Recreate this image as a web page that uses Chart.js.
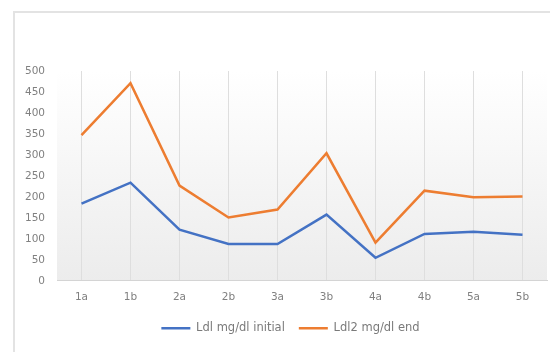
<!DOCTYPE html>
<html>
<head>
<meta charset="utf-8">
<script src="https://cdn.jsdelivr.net/npm/chart.js@4"></script>
<style>
  html, body { margin: 0; padding: 0; background: #ffffff; }
  #wrap { width: 550px; height: 352px; position: relative; }
</style>
</head>
<body>
<div id="wrap"><canvas id="c" width="550" height="352"></canvas></div>
<script>
// Patient samples and LDL readings (mg/dl)
const categories = ['1a', '1b', '2a', '2b', '3a', '3b', '4a', '4b', '5a', '5b'];
const ldlInitial = [184, 234, 122, 88, 88, 158, 55, 112, 117, 110];
const ldlEnd = [347, 471, 227, 151, 170, 304, 91, 215, 199, 201];
const yTicks = [0, 50, 100, 150, 200, 250, 300, 350, 400, 450, 500];

const labelFont = { family: 'DejaVu Sans', size: 10.5 };

// Light frame around the figure and a soft vertical gradient behind the plot
const framePlugin = {
  id: 'frame',
  afterLayout(chart) {
    // nudge the legend row a little to the right, under the plot
    chart.legend.left += 17;
    chart.legend.right += 17;
  },
  beforeDraw(chart) {
    const { ctx, chartArea } = chart;
    ctx.save();
    const g = ctx.createLinearGradient(0, chartArea.top, 0, chartArea.bottom);
    g.addColorStop(0, 'rgba(255,255,255,1)');
    g.addColorStop(1, 'rgba(236,236,236,1)');
    ctx.fillStyle = g;
    ctx.fillRect(chartArea.left, chartArea.top, chartArea.right - chartArea.left, chartArea.bottom - chartArea.top);
    ctx.strokeStyle = '#e3e3e3';
    ctx.lineWidth = 2;
    ctx.beginPath();
    ctx.moveTo(14, 360);
    ctx.lineTo(14, 12);
    ctx.lineTo(560, 12);
    ctx.stroke();
    ctx.restore();
  }
};

new Chart(document.getElementById('c'), {
  type: 'line',
  data: {
    labels: categories,
    datasets: [
      {
        label: 'Ldl mg/dl initial',
        data: ldlInitial,
        borderColor: '#4472C4',
        backgroundColor: '#4472C4',
        borderWidth: 2.5,
        pointRadius: 0,
        tension: 0
      },
      {
        label: 'Ldl2 mg/dl end',
        data: ldlEnd,
        borderColor: '#ED7D31',
        backgroundColor: '#ED7D31',
        borderWidth: 2.5,
        pointRadius: 0,
        tension: 0
      }
    ]
  },
  options: {
    responsive: false,
    animation: false,
    layout: { padding: { top: 71, right: 3, left: 0, bottom: 8 } },
    plugins: {
      legend: {
        position: 'bottom',
        labels: {
          usePointStyle: true,
          pointStyle: 'line',
          pointStyleWidth: 29,
          boxHeight: 8,
          color: '#7a7a7a',
          font: { family: 'DejaVu Sans', size: 11.5 },
          padding: 14
        }
      },
      tooltip: { enabled: false }
    },
    scales: {
      x: {
        offset: true,
        afterFit(scale) { scale.height = scale.height - 5; },
        grid: { offset: false, color: '#dedede', drawTicks: false },
        border: { color: '#d4d4d4' },
        ticks: { color: '#808080', font: labelFont, padding: 10 }
      },
      y: {
        min: 0,
        max: 500,
        afterBuildTicks(scale) { scale.ticks = yTicks.map(v => ({ value: v })); },
        afterFit(scale) { scale.width = 57; },
        grid: { display: false, drawTicks: false },
        border: { display: false },
        ticks: { color: '#808080', font: labelFont, padding: 12 }
      }
    }
  },
  plugins: [framePlugin]
});
</script>
</body>
</html>
